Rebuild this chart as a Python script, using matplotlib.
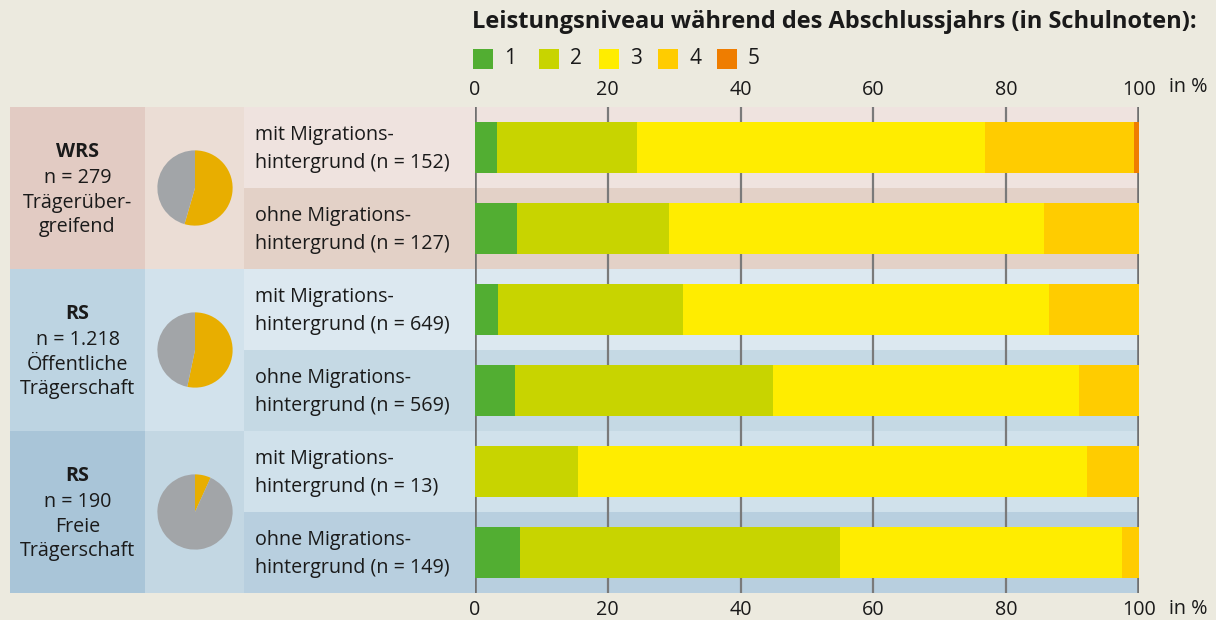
import matplotlib.pyplot as plt
from matplotlib.patches import Rectangle
import matplotlib.transforms as mtransforms

plt.rcParams['font.family'] = ['Open Sans', 'DejaVu Sans']

# data (percent per grade)
groups = ["WRS", "RS", "RS"]
group_n = ["n = 279", "n = 1.218", "n = 190"]
group_desc = [["Trägerüber-", "greifend"], ["Öffentliche", "Trägerschaft"], ["Freie", "Trägerschaft"]]
row_line1 = ["mit Migrations-", "ohne Migrations-"] * 3
row_line2 = ["hintergrund (n = 152)", "hintergrund (n = 127)", "hintergrund (n = 649)",
             "hintergrund (n = 569)", "hintergrund (n = 13)", "hintergrund (n = 149)"]
grades = ["1", "2", "3", "4", "5"]
note1 = [3.3, 6.3, 3.5, 6.0, 0.0, 6.8]
note2 = [21.1, 22.9, 27.8, 38.9, 15.5, 48.2]
note3 = [52.4, 56.5, 55.1, 46.1, 76.7, 42.4]
note4 = [22.4, 14.3, 13.6, 9.0, 7.8, 2.6]
note5 = [0.8, 0.0, 0.0, 0.0, 0.0, 0.0]
mig_share = [54.5, 53.3, 6.8]

grade_colors = ["#52ae32", "#c8d400", "#ffed00", "#ffcc00", "#ef7d00"]
bg = "#eceadf"
txt = "#1a1a1a"
col1_colors = ["#e2cbc3", "#bdd4e2", "#a9c5d8"]
col2_colors = ["#ebddd5", "#d2e2ec", "#c3d7e3"]
row_colors = ["#efe3df", "#e3d1c7", "#dce8f0", "#c5d9e4", "#d0e1eb", "#b8cfdf"]
fs = 14.2

W, H = 1216, 620
fig = plt.figure(figsize=(W / 100, H / 100), dpi=100, facecolor=bg)

x0, x1, y0, y1 = 475, 1139, 107, 593
ax = fig.add_axes([x0 / W, 1 - y1 / H, (x1 - x0) / W, (y1 - y0) / H])
ax.set_facecolor("none")
ax.set_xlim(0, 100)
ax.set_ylim(5.5, -0.5)
for s in ax.spines.values():
    s.set_visible(False)

trans = mtransforms.blended_transform_factory(ax.transAxes, ax.transData)
a_col3 = (244 - x0) / (x1 - x0)
a_col2 = (145 - x0) / (x1 - x0)
a_col1 = (10 - x0) / (x1 - x0)
for i in range(6):
    ax.add_patch(Rectangle((a_col3, i - 0.5), 1 - a_col3, 1, transform=trans,
                           facecolor=row_colors[i], edgecolor="none", clip_on=False, zorder=0))
    ax.text(a_col3 + 0.016, i - 0.16, row_line1[i], transform=trans, ha="left", va="center",
            fontsize=fs, color=txt)
    ax.text(a_col3 + 0.016, i + 0.19, row_line2[i], transform=trans, ha="left", va="center",
            fontsize=fs, color=txt)
for g in range(3):
    ax.add_patch(Rectangle((a_col1, 2 * g - 0.5), a_col2 - a_col1, 2, transform=trans,
                           facecolor=col1_colors[g], edgecolor="none", clip_on=False, zorder=0))
    ax.add_patch(Rectangle((a_col2, 2 * g - 0.5), a_col3 - a_col2, 2, transform=trans,
                           facecolor=col2_colors[g], edgecolor="none", clip_on=False, zorder=0))
    xc = (a_col1 + a_col2) / 2
    yc = 2 * g + 0.5
    lines = [group_n[g]] + group_desc[g]
    ax.text(xc, yc - 0.44, groups[g], transform=trans, ha="center", va="center",
            fontsize=fs, fontweight="bold", color=txt)
    for line, off in zip(lines, [-0.12, 0.18, 0.48]):
        ax.text(xc, yc + off, line, transform=trans, ha="center", va="center",
                fontsize=fs, color=txt)

# grid
for v in [20, 40, 60, 80]:
    ax.axvline(v, color="#7a7a7a", lw=1.6, zorder=1)
for v in [0, 100]:
    ax.axvline(v, color="#707070", lw=2.6, zorder=1)

ypos = list(range(6))
left = [0] * 6
for vals, c in zip([note1, note2, note3, note4, note5], grade_colors):
    ax.barh(ypos, vals, left=left, height=0.64, color=c, zorder=2)
    left = [l + v for l, v in zip(left, vals)]

ticks = [0, 20, 40, 60, 80, 100]
ax.set_xticks(ticks)
ax.set_yticks([])
ax.tick_params(axis="x", length=0, labelsize=fs, labelcolor=txt,
               top=True, labeltop=True, bottom=True, labelbottom=True, pad=5)
fig.text(1188 / W, 1 - 87 / H, "in %", ha="center", va="center", fontsize=fs, color=txt)
fig.text(1188 / W, 1 - 609 / H, "in %", ha="center", va="center", fontsize=fs, color=txt)

# title and legend
fig.text(472 / W, 1 - 22 / H, "Leistungsniveau während des Abschlussjahrs (in Schulnoten):",
         ha="left", va="center", fontsize=17, fontweight="bold", color=txt)
legend_x = [473, 539, 599, 658, 717]
for lx, g, c in zip(legend_x, grades, grade_colors):
    fig.patches.append(Rectangle((lx / W, 1 - 69 / H), 20 / W, 20 / H, transform=fig.transFigure,
                                 facecolor=c, edgecolor="none"))
    fig.text((lx + 31) / W, 1 - 59 / H, g, ha="left", va="center", fontsize=15, color=txt)

# pies
centers = [188, 350, 512]
r = 38
for g in range(3):
    pax = fig.add_axes([(195 - r) / W, 1 - (centers[g] + r) / H, 2 * r / W, 2 * r / H])
    pax.pie([mig_share[g], 100 - mig_share[g]], colors=["#e8ae00", "#a2a5a8"],
            startangle=90, counterclock=False, radius=1)
    pax.set_xlim(-1.01, 1.01)
    pax.set_ylim(-1.01, 1.01)
    pax.set_aspect("equal")

fig.savefig("out.png", dpi=100, facecolor=bg)
